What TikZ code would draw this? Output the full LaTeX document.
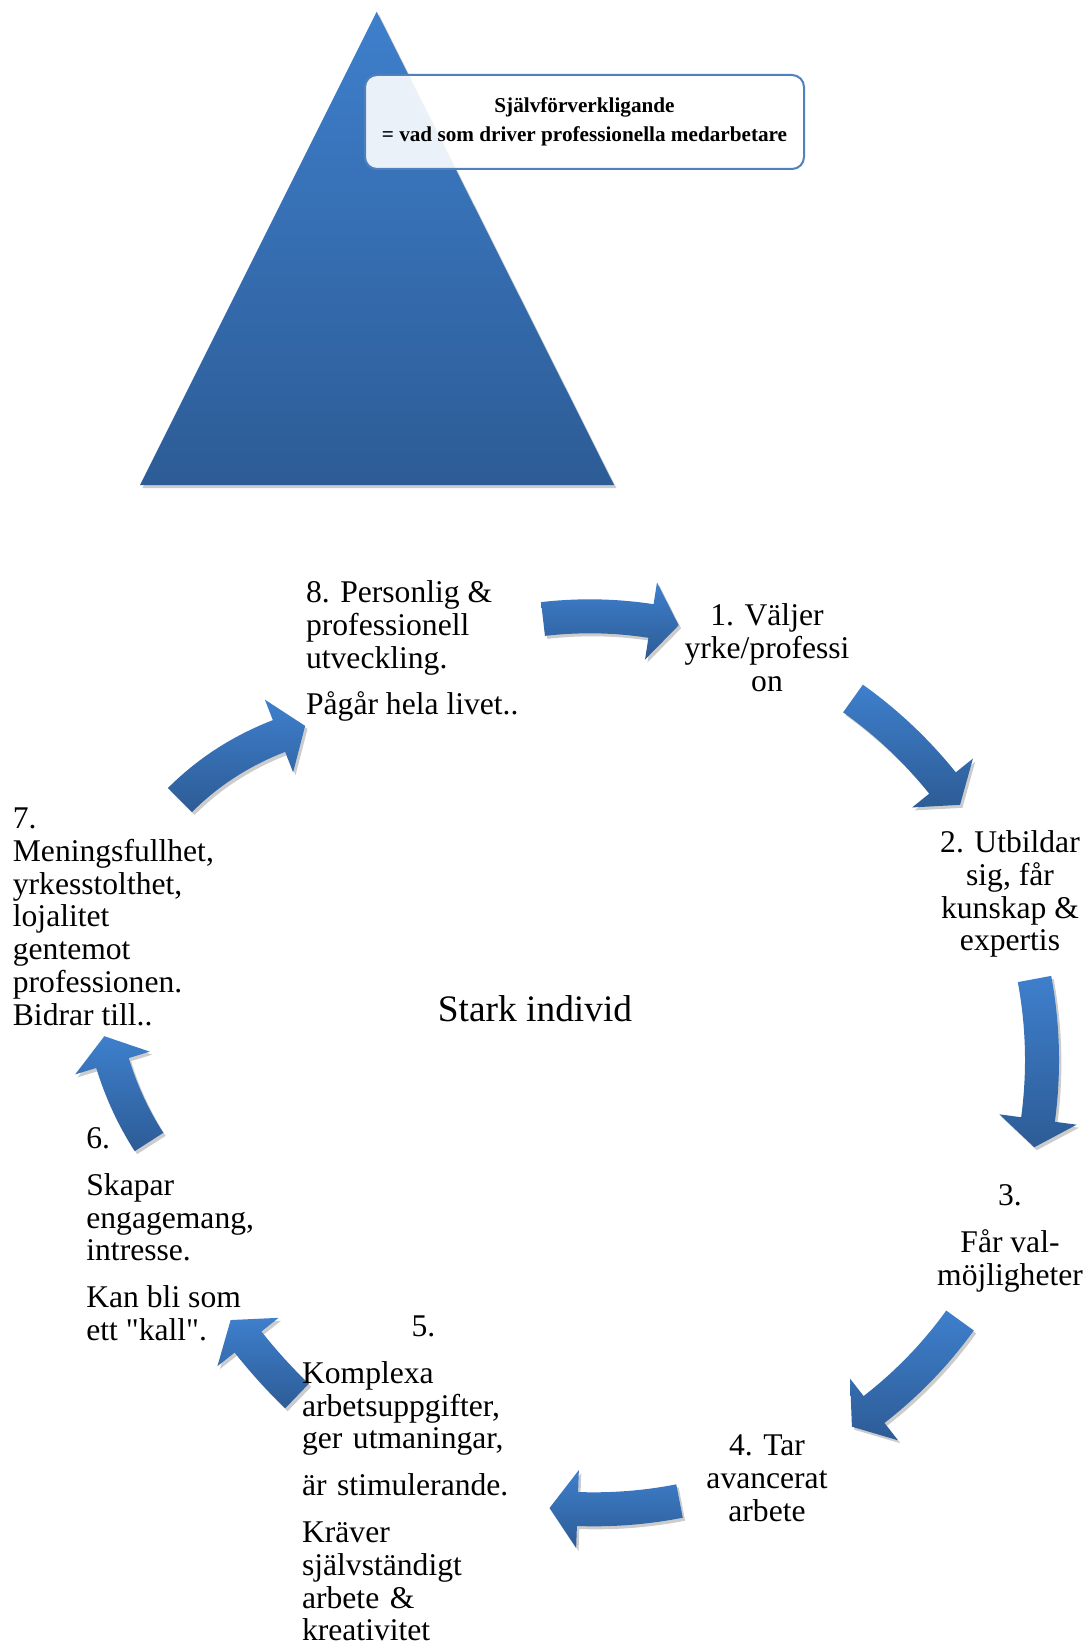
\documentclass[tikz,border=0pt]{standalone}
\usepackage{fontspec}
\setmainfont{Liberation Serif}[Ligatures=TeXOff]
\usetikzlibrary{calc, shadows}
\definecolor{blueTop}{RGB}{62,127,204}
\definecolor{blueBot}{RGB}{45,92,150}
\definecolor{calloutLine}{RGB}{79,129,189}
\newcommand{\lineStrut}{\rule{0pt}{12pt}}
\tikzset{
    blueShape/.style={top color=blueTop, bottom color=blueBot, draw=none,
        drop shadow={shadow xshift=1.2pt, shadow yshift=-1.5pt, opacity=0.2, fill=black}},
    calloutBox/.style={rectangle, rounded corners=6pt, draw=calloutLine, line width=1pt,
        fill=white, fill opacity=0.9, text opacity=1, minimum width=219.5pt, minimum height=47pt,
        align=center, font=\bfseries\fontsize{10.6pt}{14.7pt}\selectfont},
    cycleText/.style={inner sep=0pt, align=left, font=\fontsize{15.8pt}{16.4pt}\selectfont},
    cycleTextC/.style={cycleText, align=center},
    coreLabel/.style={inner sep=0pt, font=\fontsize{18.7pt}{20pt}\selectfont}
}

\begin{document}
\begin{tikzpicture}[x=0.5pt, y=-0.5pt]

        % Canvas (pixel grid of the page)
        \useasboundingbox (0,0) rectangle (1087,1642);

        % --- Pyramid ---
        \coordinate (apex) at (376.7,11.7);
        \coordinate (baseL) at (140,485);
        \coordinate (baseR) at (614,485);
        \path[blueShape] (apex) -- (baseR) -- (baseL) -- cycle;

        \node[calloutBox] (callout) at (584.5,122)
            {Självförverkligande\\= vad som driver professionella medarbetare};

        % --- Custom Macro for the curved cycle arrows ---
        % #1 = tail centre, #2 = bend point, #3 = head base centre, #4 = name
        \newcommand{\drawCycleArrow}[4]{
            \coordinate (#4t1) at ($(#1)!8.5pt!90:(#2)$);
            \coordinate (#4t2) at ($(#1)!8.5pt!-90:(#2)$);
            \coordinate (#4b1) at ($(#3)!8.5pt!-90:(#2)$);
            \coordinate (#4b2) at ($(#3)!8.5pt!90:(#2)$);
            \coordinate (#4h1) at ($(#3)!19.5pt!-90:(#2)$);
            \coordinate (#4h2) at ($(#3)!19.5pt!90:(#2)$);
            \coordinate (#4tip) at ($(#3)!-14pt!(#2)$);
            % bend points of both edges
            \coordinate (#4u1) at ($(#4t1)+(#2)-(#1)$);
            \coordinate (#4v1) at ($(#4b1)+(#2)-(#3)$);
            \coordinate (#4u2) at ($(#4t2)+(#2)-(#1)$);
            \coordinate (#4v2) at ($(#4b2)+(#2)-(#3)$);
            \coordinate (#4c1) at (intersection of #4t1--#4u1 and #4b1--#4v1);
            \coordinate (#4c2) at (intersection of #4t2--#4u2 and #4b2--#4v2);
            \path[blueShape] (#4t1) .. controls ($(#4t1)!2/3!(#4c1)$) and ($(#4b1)!2/3!(#4c1)$) .. (#4b1)
                -- (#4h1) -- (#4tip) -- (#4h2) -- (#4b2)
                .. controls ($(#4b2)!2/3!(#4c2)$) and ($(#4t2)!2/3!(#4c2)$) .. (#4t2) -- cycle;
        }

        % Arrow coordinates
        \coordinate (Atail) at (543,619);     \coordinate (Abend) at (597.4,612.7);  \coordinate (Ahead) at (651,621);
        \coordinate (Btail) at (853,698.5);   \coordinate (Bbend) at (903.6,734.6);  \coordinate (Bhead) at (942.5,783);
        \coordinate (Ctail) at (1034.5,979);  \coordinate (Cbend) at (1047.5,1048.8); \coordinate (Chead) at (1038,1119.5);
        \coordinate (Dtail) at (960,1320.5);  \coordinate (Dbend) at (923.5,1371);   \coordinate (Dhead) at (874,1409.5);
        \coordinate (Etail) at (679.5,1501);  \coordinate (Ebend) at (629.1,1510.8); \coordinate (Ehead) at (577.5,1509);
        \coordinate (Ftail) at (297,1396);    \coordinate (Fbend) at (270.6,1370.6); \coordinate (Fhead) at (248,1342);
        \coordinate (Gtail) at (149,1142);    \coordinate (Gbend) at (125.3,1105);   \coordinate (Ghead) at (112.5,1063);
        \coordinate (Htail) at (180,800);     \coordinate (Hbend) at (221.8,758.2);  \coordinate (Hhead) at (279,736);

        % Draw the arrows
        \drawCycleArrow{Atail}{Abend}{Ahead}{A}
        \drawCycleArrow{Btail}{Bbend}{Bhead}{B}
        \drawCycleArrow{Ctail}{Cbend}{Chead}{C}
        \drawCycleArrow{Dtail}{Dbend}{Dhead}{D}
        \drawCycleArrow{Etail}{Ebend}{Ehead}{E}
        \drawCycleArrow{Ftail}{Fbend}{Fhead}{F}
        \drawCycleArrow{Gtail}{Gbend}{Ghead}{G}
        \drawCycleArrow{Htail}{Hbend}{Hhead}{H}

        % --- Cycle texts ---
        \node[cycleTextC, anchor=north] (phase1) at (767,601)
            {\lineStrut 1. Väljer\\yrke/professi\\on};
        \node[cycleTextC, anchor=north] (phase2) at (1010,828)
            {\lineStrut 2. Utbildar\\sig, får\\kunskap \&\\expertis};
        \node[cycleTextC, anchor=north] (phase3) at (1010,1181)
            {\lineStrut 3.\\[7pt]Får val-\\möjligheter};
        \node[cycleTextC, anchor=north] (phase4) at (767,1431)
            {\lineStrut 4. Tar\\avancerat\\arbete};
        \node[cycleText, anchor=north west, text width=121.3pt] (phase5) at (301.7,1312)
            {\makebox[121.3pt]{\lineStrut 5.}\\[7pt]Komplexa\\arbetsuppgifter,\\ger utmaningar,\\[7pt]är stimulerande.\\[7pt]Kräver\\självständigt\\arbete \&\\kreativitet};
        \node[cycleText, anchor=north west] (phase6) at (86,1124)
            {\lineStrut 6.\\[7pt]Skapar\\engagemang,\\intresse.\\[7pt]Kan bli som\\ett "kall".};
        \node[cycleText, anchor=north west] (phase7) at (12.5,804)
            {\lineStrut 7.\\Meningsfullhet,\\yrkesstolthet,\\lojalitet\\gentemot\\professionen.\\Bidrar till..};
        \node[cycleText, anchor=north west] (phase8) at (305.7,578)
            {\lineStrut 8. Personlig \&\\professionell\\utveckling.\\[7pt]Pågår hela livet..};

        % Centre label
        \node[coreLabel, anchor=base] (core) at (535,1021) {Stark individ};

\end{tikzpicture}
\end{document}
